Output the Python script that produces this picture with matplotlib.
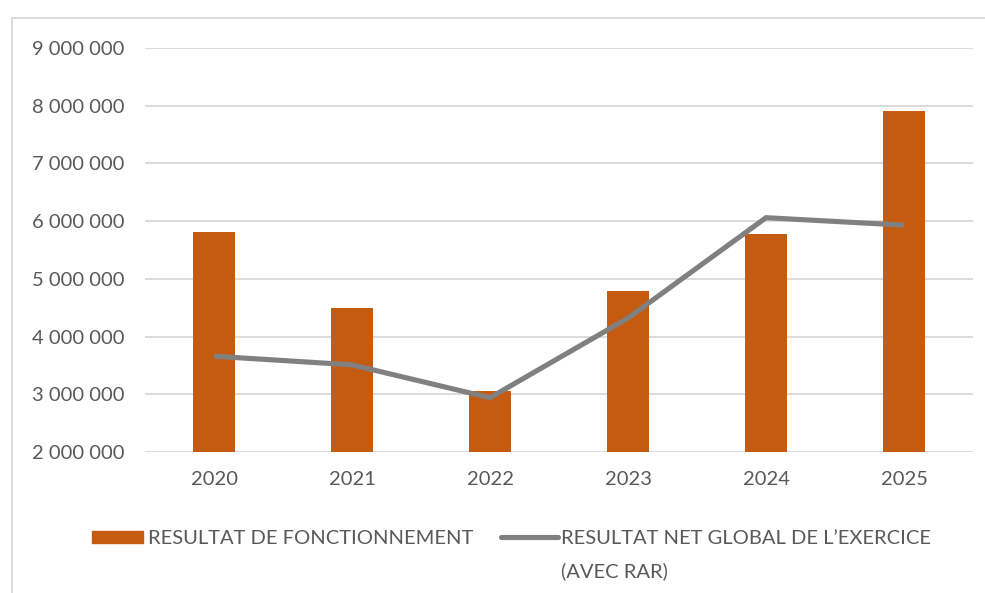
import matplotlib

matplotlib.use("Agg")
import matplotlib.pyplot as plt
from matplotlib.lines import Line2D
from matplotlib.patches import Rectangle
from matplotlib.ticker import FuncFormatter

# --- data -------------------------------------------------------------------

years = ["2020", "2021", "2022", "2023", "2024", "2025"]
resultat_fonctionnement = [5810000, 4500000, 3060000, 4790000, 5780000, 7910000]
resultat_net_global = [3660000, 3510000, 2940000, 4320000, 6060000, 5930000]

label_bar = "RESULTAT DE FONCTIONNEMENT"
label_line_1 = "RESULTAT NET GLOBAL DE L\u2019EXERCICE"
label_line_2 = "(AVEC RAR)"

# --- styling ----------------------------------------------------------------

_ORANGE = "#c55a11"
_LINE = "#808080"
_TEXT = "#595959"
_GRID = "#d9d9d9"

plt.rcParams["font.family"] = ["Lato", "DejaVu Sans"]

fig = plt.figure(figsize=(9.85, 5.93), dpi=100)
fig.patch.set_facecolor("white")

# outer chart frame (top and left edges visible)
fig.patches.append(Rectangle((12 / 985, -0.1), 1.2, 1.1 - 18 / 593,
                             transform=fig.transFigure, fill=False,
                             edgecolor=_GRID, lw=1.3))

ax = fig.add_axes([145 / 985, 1 - 452 / 593, 828 / 985, 404 / 593])
x = range(len(years))
ax.bar(x, resultat_fonctionnement, width=0.31, color=_ORANGE, zorder=2)
ax.plot(x, resultat_net_global, color=_LINE, lw=3.7, zorder=3,
        solid_capstyle="butt", solid_joinstyle="miter")

ax.set_xlim(-0.5, len(years) - 0.5)
ax.set_ylim(2000000, 9000000)
ax.set_yticks(range(2000000, 9000001, 1000000))
ax.yaxis.set_major_formatter(
    FuncFormatter(lambda v, _: f"{int(v):,}".replace(",", " ")))
ax.set_xticks(list(x))
ax.set_xticklabels(years)
ax.tick_params(axis="both", length=0, colors=_TEXT, labelsize=14.5)
ax.tick_params(axis="y", pad=15)
ax.tick_params(axis="x", pad=14)
ax.grid(True, axis="y", color=_GRID, lw=1.3, zorder=0)
for s in ax.spines.values():
    s.set_visible(False)

# --- legend (drawn by hand to keep the two-line label layout) ----------------

fig.patches.append(Rectangle((92 / 985, 1 - 543 / 593), 51 / 985, 12 / 593,
                             transform=fig.transFigure, color=_ORANGE))
fig.text(148 / 985, 1 - 538 / 593, label_bar, color=_TEXT, fontsize=14.5,
         va="center", ha="left")
fig.lines.append(Line2D([501 / 985, 558 / 985], [1 - 537 / 593, 1 - 537 / 593],
                        transform=fig.transFigure, color=_LINE, lw=3.7,
                        solid_capstyle="round"))
fig.text(561 / 985, 1 - 538 / 593, label_line_1, color=_TEXT, fontsize=14.5,
         va="center", ha="left")
fig.text(561 / 985, 1 - 571 / 593, label_line_2, color=_TEXT, fontsize=14.5,
         va="center", ha="left")

fig.savefig("out.png", dpi=100, facecolor="white")
plt.close(fig)
